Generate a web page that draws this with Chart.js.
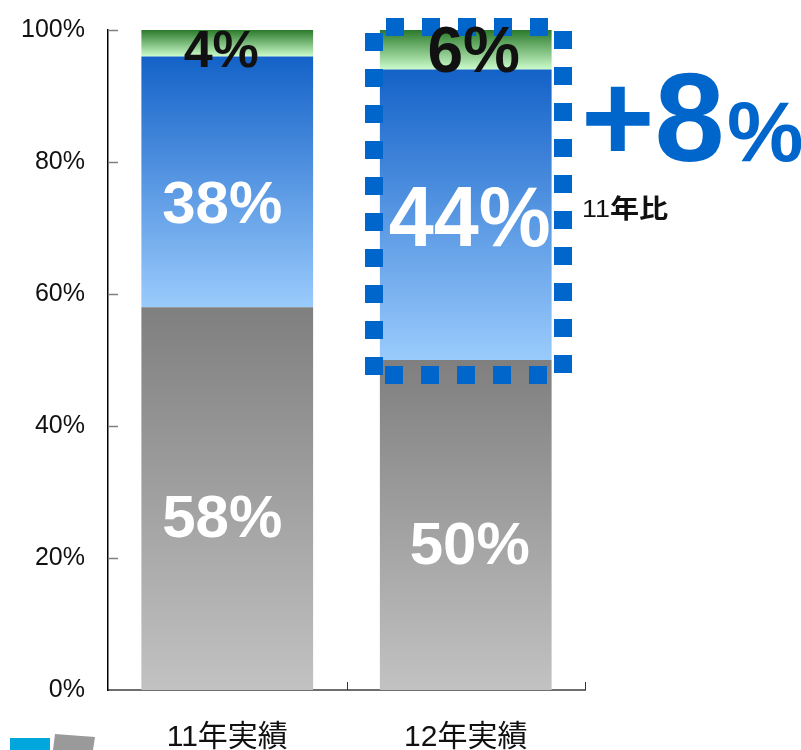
<!DOCTYPE html>
<html><head><meta charset="utf-8">
<script src="https://cdn.jsdelivr.net/npm/chart.js@4/dist/chart.umd.min.js"></script>
<style>html,body{margin:0;padding:0;background:#fff}#wrap{width:801px;height:750px;position:relative}</style>
</head><body><div id="wrap"><canvas id="c" width="801" height="750"></canvas></div>
<script>
// ---- data ----
const categories = ['11年実績', '12年実績'];
const grayValues = [58, 50];
const blueValues = [38, 44];
const greenValues = [4, 6];
const yTickValues = [0, 20, 40, 60, 80, 100];
const highlightMain = '+8';
const highlightUnit = '%';
const highlightNote = ['11', '年比'];
const highlightIndex = 1;

// ---- styles ----
const seriesList = [grayValues, blueValues, greenValues];
const gradientStops = [
  ['#7f7f7f', '#c2c2c2'],
  ['#1462c8', '#9acbfc'],
  ['#2b7a2b', '#ccfccc']
];
const labelColors = ['#ffffff', '#ffffff', '#111111'];
const labelSizes = [[60, 60], [60, 86], [52, 64]];
const labelScaleX = [[1, 1], [1, 0.94], [1, 1]];
const labelOffsetsY = [[22, 22], [25, 7], [9, 5]];
const labelOffsetsX = [[-5, 4], [-5, 4], [-6, 8]];
const LATIN = '"Liberation Sans", Arial, sans-serif';
const CJK = '"Liberation Sans", "Noto Sans CJK JP", sans-serif';

function segGradient(ctx, di) {
  const chart = ctx.chart;
  const ys = chart.scales.y;
  if (!ys || !chart.chartArea) return gradientStops[di][0];
  const i = ctx.dataIndex;
  let base = 0;
  for (let k = 0; k < di; k++) base += seriesList[k][i];
  const top = base + seriesList[di][i];
  const y0 = ys.getPixelForValue(top), y1 = ys.getPixelForValue(base);
  const g = chart.ctx.createLinearGradient(0, y0, 0, y1);
  g.addColorStop(0, gradientStops[di][0]);
  g.addColorStop(1, gradientStops[di][1]);
  return g;
}

const decor = {
  id: 'decor',
  afterDatasetsDraw(chart) {
    const c = chart.ctx;
    const ys = chart.scales.y, xs = chart.scales.x;
    const area = chart.chartArea;
    c.save();
    // inward y ticks
    c.strokeStyle = '#808080'; c.lineWidth = 1.5;
    yTickValues.forEach(v => {
      if (v === 0) return;
      const y = Math.round(ys.getPixelForValue(v)) + 0.5;
      c.beginPath(); c.moveTo(area.left, y); c.lineTo(area.left + 10, y); c.stroke();
    });
    // inward x ticks at category boundaries
    c.strokeStyle = '#333'; c.lineWidth = 1;
    const step = xs.getPixelForValue(1) - xs.getPixelForValue(0);
    for (let i = 1; i <= categories.length; i++) {
      const x = Math.round(xs.getPixelForValue(i - 1) + step / 2) + 0.5;
      c.beginPath(); c.moveTo(x, area.bottom); c.lineTo(x, area.bottom - 8); c.stroke();
    }
    // dotted highlight frame
    const bar = chart.getDatasetMeta(1).data[highlightIndex];
    const left = bar.x - bar.width / 2, right = bar.x + bar.width / 2;
    const topY = ys.getPixelForValue(100);
    const baseY = ys.getPixelForValue(grayValues[highlightIndex]);
    const S = 18, P = 36;
    const nV = Math.floor((baseY - topY) / P) + 1;
    c.fillStyle = '#0066cc';
    for (let k = 0; k < nV; k++) c.fillRect(Math.round(left - 15), Math.round(topY + 3 + k * P), S, S);
    for (let k = 0; k < nV; k++) c.fillRect(Math.round(right + 2), Math.round(topY + 1 + k * P), S, S);
    for (let x = left + 6; x + S <= right; x += P) c.fillRect(Math.round(x), Math.round(topY - 12), S, S);
    for (let x = left + 5; x + S <= right; x += P) c.fillRect(Math.round(x), Math.round(baseY + 6), S, S);
    // segment labels
    c.textAlign = 'center'; c.textBaseline = 'middle';
    for (let di = 0; di < 3; di++) {
      const meta = chart.getDatasetMeta(di);
      meta.data.forEach((el, i) => {
        let base = 0;
        for (let k = 0; k < di; k++) base += seriesList[k][i];
        const mid = ys.getPixelForValue(base + seriesList[di][i] / 2);
        c.fillStyle = labelColors[di];
        c.font = 'bold ' + labelSizes[di][i] + 'px ' + LATIN;
        c.save();
        c.translate(el.x + labelOffsetsX[di][i], mid + labelOffsetsY[di][i]);
        c.scale(labelScaleX[di][i], 1);
        c.fillText(seriesList[di][i] + '%', 0, 0);
        c.restore();
      });
    }
    // highlight text
    c.textAlign = 'left'; c.textBaseline = 'alphabetic';
    c.fillStyle = '#0066cc';
    c.font = 'bold 126px ' + LATIN;
    c.fillText(highlightMain, 581, 161);
    c.font = 'bold 86px ' + LATIN;
    c.fillText(highlightUnit, 727, 161);
    c.fillStyle = '#111';
    c.save();
    c.translate(582, 217);
    c.scale(1.12, 1);
    c.font = '24px ' + LATIN;
    c.fillText(highlightNote[0], 0, 0);
    const w = c.measureText(highlightNote[0]).width;
    c.font = 'bold 26px "Noto Sans CJK JP", sans-serif';
    c.fillText(highlightNote[1], w, 1);
    c.restore();
    // corner decoration
    c.fillStyle = '#00a6dc';
    c.fillRect(10, 738, 40, 12);
    c.fillStyle = '#9a9a9a';
    c.beginPath(); c.moveTo(55, 734); c.lineTo(95, 737); c.lineTo(93, 750); c.lineTo(53, 750); c.closePath(); c.fill();
    c.restore();
  }
};

new Chart(document.getElementById('c'), {
  type: 'bar',
  data: {
    labels: categories,
    datasets: seriesList.map((vals, di) => ({
      data: vals,
      backgroundColor: ctx => segGradient(ctx, di),
      borderWidth: 0,
      barPercentage: 0.72,
      categoryPercentage: 1.0
    }))
  },
  options: {
    responsive: false,
    animation: false,
    devicePixelRatio: 1,
    layout: { autoPadding: false, padding: { top: 30, right: 216, left: 0, bottom: 0 } },
    plugins: { legend: { display: false }, tooltip: { enabled: false } },
    scales: {
      x: {
        stacked: true,
        grid: { display: false },
        border: { display: true, color: '#6e6e6e', width: 2 },
        ticks: { color: '#111', font: { family: CJK, size: 30 }, padding: 22 },
        afterFit: s => { s.height = 60; s.paddingLeft = 0; s.paddingRight = 0; }
      },
      y: {
        stacked: true, min: 0, max: 100,
        grid: { display: false, drawTicks: false },
        border: { display: true, color: '#000', width: 1.5 },
        ticks: { stepSize: 20, color: '#111', font: { family: LATIN, size: 25 }, padding: 23,
          callback: v => yTickValues.includes(v) ? v + '%' : '' },
        afterFit: s => { s.width = 108; s.paddingTop = 0; s.paddingBottom = 0; }
      }
    }
  },
  plugins: [decor]
});
</script>
</body></html>
